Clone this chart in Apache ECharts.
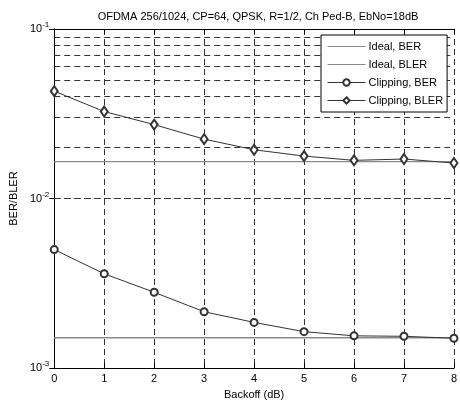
<!DOCTYPE html>
<html>
<head>
<meta charset="utf-8">
<script src="https://cdn.jsdelivr.net/npm/echarts@6/dist/echarts.min.js"></script>
<style>
html,body{margin:0;padding:0;background:#fff;}
#chart{width:460px;height:405px;}
</style>
</head>
<body>
<div id="chart"></div>
<script>
const titleText = 'OFDMA 256/1024, CP=64, QPSK, R=1/2, Ch Ped-B, EbNo=18dB';
const xName = 'Backoff (dB)';
const yName = 'BER/BLER';
const backoff = [0, 1, 2, 3, 4, 5, 6, 7, 8];
const idealBER = [1.51e-3, 1.51e-3, 1.51e-3, 1.51e-3, 1.51e-3, 1.51e-3, 1.51e-3, 1.51e-3, 1.51e-3];
const idealBLER = [1.65e-2, 1.65e-2, 1.65e-2, 1.65e-2, 1.65e-2, 1.65e-2, 1.65e-2, 1.65e-2, 1.65e-2];
const clipBER = [5.0e-3, 3.6e-3, 2.8e-3, 2.15e-3, 1.86e-3, 1.64e-3, 1.55e-3, 1.54e-3, 1.50e-3];
const clipBLER = [4.3e-2, 3.26e-2, 2.73e-2, 2.24e-2, 1.94e-2, 1.78e-2, 1.68e-2, 1.71e-2, 1.62e-2];
const seriesNames = ['Ideal, BER', 'Ideal, BLER', 'Clipping, BER', 'Clipping, BLER'];
const yGridValues = [0.002,0.003,0.004,0.005,0.006,0.007,0.008,0.009,0.01,0.02,0.03,0.04,0.05,0.06,0.07,0.08,0.09];

const FONT = 'Liberation Sans';
const pair = (ys) => backoff.map((x, i) => [x, ys[i]]);
const gridDash = { color: '#333', width: 1, type: [6, 4] };

const chart = echarts.init(document.getElementById('chart'), null, { renderer: 'canvas' });
chart.setOption({
  animation: false,
  backgroundColor: '#fff',
  textStyle: { fontFamily: FONT },
  title: {
    text: titleText, left: 253, top: 6, textAlign: 'center',
    textStyle: { fontFamily: FONT, fontSize: 11, fontWeight: 'normal', color: '#000' }
  },
  grid: { left: 50, right: 4, top: 29, bottom: 34 },
  legend: {
    data: [
      { name: seriesNames[0], itemStyle: { opacity: 0 } },
      { name: seriesNames[1], itemStyle: { opacity: 0 } },
      { name: seriesNames[2] },
      { name: seriesNames[3] }
    ],
    orient: 'vertical',
    left: 321, top: 35,
    width: 134,
    padding: [6, 4, 6, 6],
    itemGap: 7,
    itemWidth: 38, itemHeight: 8,
    backgroundColor: '#fff',
    borderColor: '#000', borderWidth: 1,
    z: 20, zlevel: 1,
    itemStyle: { borderWidth: 1 },
    lineStyle: { width: 1 },
    textStyle: { fontFamily: FONT, fontSize: 11, color: '#000', padding: [0, 0, 0, -2] }
  },
  xAxis: [{
    type: 'value', min: 0, max: 8, interval: 1,
    name: xName, nameLocation: 'middle', nameGap: 19,
    nameTextStyle: { fontFamily: FONT, fontSize: 11, color: '#000' },
    axisLine: { show: true, lineStyle: { color: '#000', width: 1 } },
    axisTick: { show: true, inside: true, length: 5, lineStyle: { color: '#000' } },
    axisLabel: { fontFamily: FONT, fontSize: 11, color: '#000', margin: 5 },
    splitLine: { show: true, lineStyle: gridDash }
  }, {
    type: 'value', min: 0, max: 8, interval: 1, position: 'top',
    axisLine: { show: true, lineStyle: { color: '#000', width: 1 } },
    axisTick: { show: true, inside: true, length: 5, lineStyle: { color: '#000' } },
    axisLabel: { show: false },
    splitLine: { show: false }
  }],
  yAxis: [{
    type: 'log', logBase: 10, min: 0.001, max: 0.1,
    name: yName, nameLocation: 'middle', nameGap: 35,
    nameTextStyle: { fontFamily: FONT, fontSize: 11, color: '#000' },
    axisLine: { show: true, lineStyle: { color: '#000', width: 1 } },
    axisTick: { show: true, inside: true, length: 5, lineStyle: { color: '#000' } },
    axisLabel: {
      fontFamily: FONT, fontSize: 11, color: '#000', margin: 5,
      formatter: (v) => '{b|10}{s|' + Math.round(Math.log10(v)) + '}',
      rich: {
        b: { fontFamily: FONT, fontSize: 11, color: '#000' },
        s: { fontFamily: FONT, fontSize: 8, color: '#000', verticalAlign: 'top', padding: [0, 0, 8, 0] }
      }
    },
    splitLine: { show: false }
  }, {
    type: 'log', logBase: 10, min: 0.001, max: 0.1, position: 'right',
    axisLine: { show: true, lineStyle: { color: '#000', width: 1 } },
    axisTick: { show: true, inside: true, length: 5, lineStyle: { color: '#000' } },
    axisLabel: { show: false },
    splitLine: { show: false }
  }],
  series: [
    {
      name: 'gridlines', type: 'line', data: [], silent: true, z: 1,
      markLine: {
        silent: true, symbol: ['none', 'none'], label: { show: false },
        lineStyle: gridDash, animation: false,
        data: yGridValues.map(v => ({ yAxis: v }))
      }
    },
    {
      name: seriesNames[0], type: 'line', data: pair(idealBER), showSymbol: false, symbol: 'none',
      lineStyle: { color: '#8a8a8a', width: 1.3 }, itemStyle: { color: '#8a8a8a' }, z: 3
    },
    {
      name: seriesNames[1], type: 'line', data: pair(idealBLER), showSymbol: false, symbol: 'none',
      lineStyle: { color: '#8a8a8a', width: 1.3 }, itemStyle: { color: '#8a8a8a' }, z: 3
    },
    {
      name: seriesNames[2], type: 'line', data: pair(clipBER), symbol: 'emptyCircle', symbolSize: 7,
      lineStyle: { color: '#333', width: 1 }, itemStyle: { color: '#333', borderWidth: 1 }, z: 4
    },
    {
      name: seriesNames[3], type: 'line', data: pair(clipBLER), symbol: 'emptyDiamond', symbolSize: [7, 10],
      lineStyle: { color: '#333', width: 1 }, itemStyle: { color: '#333', borderWidth: 1 }, z: 4
    }
  ]
});
</script>
</body>
</html>
